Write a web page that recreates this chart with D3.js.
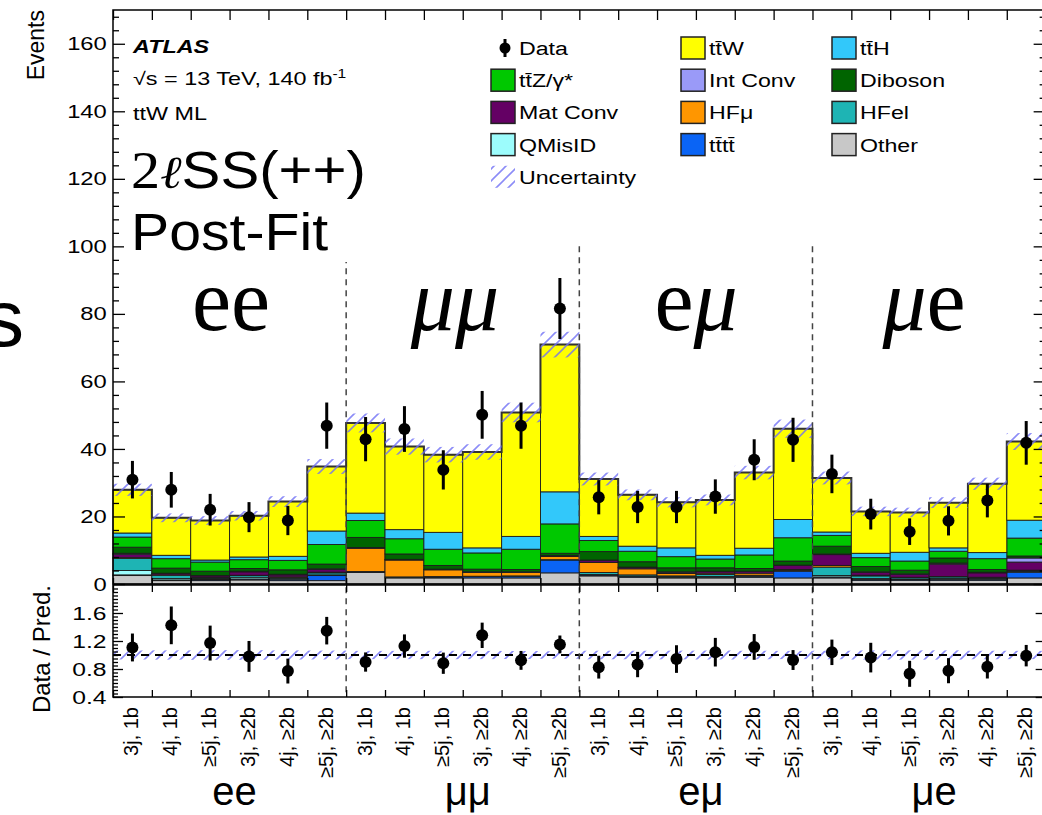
<!DOCTYPE html>
<html>
<head>
<meta charset="utf-8">
<script src="https://cdn.jsdelivr.net/npm/d3@7"></script>
<style>
body { margin: 0; background: #fff; }
svg { display: block; font-family: "Liberation Sans", Arial, sans-serif; }
</style>
</head>
<body>
<svg id="chart" width="1042" height="815"></svg>
<script>
let channels = ["ee", "μμ", "eμ", "μe"]
let binLabels = ["3j, 1b", "4j, 1b", "≥5j, 1b", "3j, ≥2b", "4j, ≥2b", "≥5j, ≥2b"]

let dataEvents = [30.9, 27.9, 22.0, 19.8, 18.8, 46.9, 42.9, 45.9, 33.8, 50.1, 46.9, 81.6,
                  25.7, 22.8, 22.8, 25.9, 36.8, 42.7, 32.6, 20.7, 15.5, 18.7, 24.7, 41.8]

let other   = [2.5, 1.0, 1.0, 1.2, 1.0, 1.0, 3.4, 1.8, 1.8, 1.8, 1.8, 3.3, 2.4, 2.0, 1.8, 1.8, 2.0, 1.8, 1.8, 1.1, 1.1, 1.1, 1.1, 1.8]
let tttt    = [0.2, 0.2, 0.3, 0.3, 0.4, 1.5, 0.2, 0.2, 0.3, 0.4, 0.5, 3.8, 0.3, 0.2, 0.2, 0.2, 0.3, 2.0, 0.3, 0.2, 0.2, 0.3, 0.3, 1.7]
let qmisid  = [1.3, 0.4, 0.2, 0.5, 0.3, 0.2, 0.0, 0.0, 0.0, 0.0, 0.0, 0.0, 0.1, 0.1, 0.1, 0.2, 0.1, 0.1, 0.4, 0.3, 0.2, 0.2, 0.2, 0.1]
let hfEl    = [3.6, 1.0, 0.3, 0.5, 0.3, 0.6, 0.1, 0.1, 0.1, 0.1, 0.1, 0.1, 0.6, 0.4, 0.3, 0.6, 0.2, 0.2, 2.5, 0.8, 0.4, 0.5, 0.3, 0.3]
let hfMu    = [0.2, 0.1, 0.1, 0.1, 0.1, 0.2, 6.9, 5.0, 2.0, 1.1, 1.0, 1.0, 3.0, 1.8, 0.7, 0.4, 0.6, 0.2, 0.5, 0.2, 0.1, 0.1, 0.1, 0.2]
let matConv = [1.0, 0.4, 0.5, 1.0, 0.6, 0.8, 0.1, 0.1, 0.1, 0.1, 0.1, 0.1, 0.6, 0.4, 0.4, 0.5, 0.5, 1.2, 3.2, 0.8, 0.8, 3.7, 1.3, 2.4]
let intConv = [0.3, 0.1, 0.1, 0.2, 0.2, 0.2, 0.1, 0.1, 0.1, 0.1, 0.1, 0.1, 0.1, 0.1, 0.1, 0.1, 0.1, 0.1, 0.2, 0.2, 0.2, 0.3, 0.2, 1.2]
let diboson = [1.8, 1.5, 1.3, 0.8, 1.3, 1.4, 3.0, 1.6, 1.1, 0.8, 0.7, 0.7, 2.5, 1.6, 1.2, 1.0, 0.8, 1.2, 2.3, 1.6, 1.1, 1.5, 0.8, 0.6]
let ttZ     = [3.0, 2.8, 2.7, 2.6, 2.8, 5.8, 5.0, 4.5, 4.8, 4.8, 6.0, 8.7, 3.3, 3.1, 3.3, 2.6, 4.0, 6.9, 3.2, 2.6, 2.7, 2.0, 3.2, 5.3]
let ttH     = [1.2, 1.0, 0.6, 0.8, 1.2, 4.0, 2.2, 2.7, 5.0, 1.5, 3.8, 9.5, 1.2, 1.5, 2.6, 1.1, 2.0, 5.4, 1.0, 1.3, 2.6, 1.0, 1.8, 5.3]
let ttW     = [12.8, 11.1, 11.7, 12.2, 16.2, 19.1, 26.7, 24.6, 23.0, 28.4, 36.7, 43.6,
               17.0, 15.2, 13.5, 16.4, 22.4, 26.9, 16.0, 12.4, 11.8, 13.4, 20.4, 23.3]

let uncertainty = [1.8, 1.3, 1.3, 1.4, 1.6, 2.2, 2.8, 2.4, 2.3, 2.3, 2.9, 3.8,
                   1.9, 1.6, 1.5, 1.6, 2.0, 2.7, 1.9, 1.4, 1.4, 1.6, 1.8, 2.5]

// stacked bottom to top
let samples = [
    {name: "Other", label: "Other", values: other, color: "#c8c8c8"},
    {name: "tttt", label: "tt\u0304tt\u0304", values: tttt, color: "#0a64f5"},
    {name: "QMisID", label: "QMisID", values: qmisid, color: "#9cfcfc"},
    {name: "HFel", label: "HFel", values: hfEl, color: "#1eb4b4"},
    {name: "HFmu", label: "HFμ", values: hfMu, color: "#ff9600"},
    {name: "MatConv", label: "Mat Conv", values: matConv, color: "#640064"},
    {name: "IntConv", label: "Int Conv", values: intConv, color: "#9a9af8"},
    {name: "Diboson", label: "Diboson", values: diboson, color: "#006400"},
    {name: "ttZ", label: "tt\u0304Z/γ*", values: ttZ, color: "#00c800"},
    {name: "ttH", label: "tt\u0304H", values: ttH, color: "#32c8fa"},
    {name: "ttW", label: "tt\u0304W", values: ttW, color: "#ffff00"}
]

let legendRows = [
    ["Data", "ttW", "ttH"],
    ["ttZ", "IntConv", "Diboson"],
    ["MatConv", "HFmu", "HFel"],
    ["QMisID", "tttt", "Other"],
    ["Uncertainty"]
]

let nBins = dataEvents.length
let svg = d3.select("#chart")

let plotLeft = 113
let plotRight = 113 + nBins * 38.86
let plotTop = 10
let mainBottom = 584
let ratioTop = 585
let ratioBottom = 697

let x = d3.scaleLinear().domain([0, nBins]).range([plotLeft, plotRight])
let xBand = d3.scaleBand().domain(d3.range(nBins)).range([plotLeft, plotRight])
let y = d3.scaleLinear().domain([0, 170]).range([mainBottom, plotTop])
let yRatio = d3.scaleLinear().domain([0.4, 2.0]).range([ratioBottom, ratioTop])

let rows = d3.range(nBins).map((i) => {
    let row = {bin: i}
    samples.forEach((s) => { row[s.name] = s.values[i] })
    return row
})
let series = d3.stack().keys(samples.map((s) => s.name))(rows)
let totals = rows.map((row, i) => d3.sum(samples, (s) => s.values[i]))

let stretchText = (parent, px, py, str, size, sx, anchor) => {
    return parent.append("text")
        .attr("transform", "translate(" + px + "," + py + ") scale(" + sx + ",1)")
        .attr("text-anchor", anchor || "start")
        .style("font-size", size + "px")
        .text(str)
}

let defs = svg.append("defs")
let hatch = defs.append("pattern")
    .attr("id", "hatch")
    .attr("patternUnits", "userSpaceOnUse")
    .attr("width", 12)
    .attr("height", 12)
hatch.append("path")
    .attr("d", "M-3,3 L3,-3 M0,12 L12,0 M9,15 L15,9")
    .attr("stroke", "#6f6ff5")
    .attr("stroke-opacity", 0.8)
    .attr("stroke-width", 1.6)

// stacked histograms
svg.append("g")
    .selectAll("g")
    .data(series)
    .enter()
    .append("g")
    .attr("fill", (d, i) => samples[i].color)
    .selectAll("rect")
    .data((d) => d)
    .enter()
    .append("rect")
    .attr("x", (d) => x(d.data.bin))
    .attr("width", x(1) - x(0))
    .attr("y", (d) => y(d[1]))
    .attr("height", (d) => y(d[0]) - y(d[1]))
    .attr("stroke", "#1c1c1c")
    .attr("stroke-width", 0.9)

let totalLine = d3.line().curve(d3.curveStepAfter)
svg.append("path")
    .attr("d", totalLine(totals.map((t, i) => [x(i), y(t)]).concat([[x(nBins), y(totals[nBins - 1])]])))
    .attr("fill", "none")
    .attr("stroke", "#333")
    .attr("stroke-width", 2)

svg.append("g")
    .selectAll("rect")
    .data(totals)
    .enter()
    .append("rect")
    .attr("x", (d, i) => x(i))
    .attr("width", x(1) - x(0))
    .attr("y", (d, i) => y(d + uncertainty[i]))
    .attr("height", (d, i) => y(d - uncertainty[i]) - y(d + uncertainty[i]))
    .attr("fill", "url(#hatch)")

// ratio band and reference line
svg.append("g")
    .selectAll("rect")
    .data(totals)
    .enter()
    .append("rect")
    .attr("x", (d, i) => x(i))
    .attr("width", x(1) - x(0))
    .attr("y", (d, i) => yRatio(1 + uncertainty[i] / d))
    .attr("height", (d, i) => yRatio(1 - uncertainty[i] / d) - yRatio(1 + uncertainty[i] / d))
    .attr("fill", "url(#hatch)")

svg.append("line")
    .attr("x1", plotLeft).attr("x2", plotRight)
    .attr("y1", yRatio(1)).attr("y2", yRatio(1))
    .attr("stroke", "#000")
    .attr("stroke-width", 2)
    .attr("stroke-dasharray", "8,6")

// channel separators
svg.append("g")
    .selectAll("line")
    .data([6, 12, 18])
    .enter()
    .append("line")
    .attr("x1", (d) => x(d)).attr("x2", (d) => x(d))
    .attr("y1", y(100)).attr("y2", ratioBottom)
    .attr("stroke", "#444")
    .attr("stroke-width", 1.5)
    .attr("stroke-dasharray", "6,5")

// data points
let points = svg.append("g")
points.selectAll("line")
    .data(dataEvents)
    .enter()
    .append("line")
    .attr("x1", (d, i) => xBand(i) + xBand.bandwidth() / 2)
    .attr("x2", (d, i) => xBand(i) + xBand.bandwidth() / 2)
    .attr("y1", (d) => y(d - Math.sqrt(d)))
    .attr("y2", (d) => y(d + Math.sqrt(d)))
    .attr("stroke", "#000")
    .attr("stroke-width", 3)
points.selectAll("circle")
    .data(dataEvents)
    .enter()
    .append("circle")
    .attr("cx", (d, i) => xBand(i) + xBand.bandwidth() / 2)
    .attr("cy", (d) => y(d))
    .attr("r", 6)
    .attr("fill", "#000")

let ratioPoints = svg.append("g")
ratioPoints.selectAll("line")
    .data(dataEvents)
    .enter()
    .append("line")
    .attr("x1", (d, i) => xBand(i) + xBand.bandwidth() / 2)
    .attr("x2", (d, i) => xBand(i) + xBand.bandwidth() / 2)
    .attr("y1", (d, i) => yRatio((d - Math.sqrt(d)) / totals[i]))
    .attr("y2", (d, i) => yRatio((d + Math.sqrt(d)) / totals[i]))
    .attr("stroke", "#000")
    .attr("stroke-width", 3)
ratioPoints.selectAll("circle")
    .data(dataEvents)
    .enter()
    .append("circle")
    .attr("cx", (d, i) => xBand(i) + xBand.bandwidth() / 2)
    .attr("cy", (d, i) => yRatio(d / totals[i]))
    .attr("r", 6)
    .attr("fill", "#000")

// frames
svg.append("rect")
    .attr("x", plotLeft).attr("y", plotTop)
    .attr("width", plotRight - plotLeft).attr("height", mainBottom - plotTop)
    .attr("fill", "none").attr("stroke", "#000").attr("stroke-width", 1.5)
svg.append("rect")
    .attr("x", plotLeft).attr("y", ratioTop)
    .attr("width", plotRight - plotLeft).attr("height", ratioBottom - ratioTop)
    .attr("fill", "none").attr("stroke", "#000").attr("stroke-width", 1.5)

// axes
let cleanAxis = (g) => {
    g.select(".domain").remove()
    g.selectAll(".tick line").attr("stroke", "#000").attr("stroke-width", 1.3)
}

let mainMajor = d3.range(0, 161, 20)
let mainMinor = d3.range(0, 171, 4).filter((v) => v % 20 !== 0)

let yAxisG = svg.append("g")
    .attr("transform", "translate(" + plotLeft + ",0)")
    .call(d3.axisLeft(y).tickValues(mainMajor).tickSizeInner(-12).tickSizeOuter(0).tickPadding(5))
    .call(cleanAxis)
yAxisG.selectAll(".tick text")
    .attr("transform", "scale(1.25,1)")
    .style("font-size", "19px")
    .attr("fill", "#000")

svg.append("g")
    .attr("transform", "translate(" + plotLeft + ",0)")
    .call(d3.axisLeft(y).tickValues(mainMinor).tickSizeInner(-6).tickSizeOuter(0).tickFormat(""))
    .call(cleanAxis)
svg.append("g")
    .attr("transform", "translate(" + plotRight + ",0)")
    .call(d3.axisRight(y).tickValues(mainMajor).tickSizeInner(-12).tickSizeOuter(0).tickFormat(""))
    .call(cleanAxis)
svg.append("g")
    .attr("transform", "translate(" + plotRight + ",0)")
    .call(d3.axisRight(y).tickValues(mainMinor).tickSizeInner(-6).tickSizeOuter(0).tickFormat(""))
    .call(cleanAxis)

let ratioMajor = [0.4, 0.8, 1.2, 1.6]
let ratioMinor = d3.range(0.45, 2.0, 0.05).filter((v) => Math.abs(v / 0.4 - Math.round(v / 0.4)) > 0.01)

let ratioAxisG = svg.append("g")
    .attr("transform", "translate(" + plotLeft + ",0)")
    .call(d3.axisLeft(yRatio).tickValues(ratioMajor).tickSizeInner(-10).tickSizeOuter(0).tickPadding(5).tickFormat(d3.format(".1f")))
    .call(cleanAxis)
ratioAxisG.selectAll(".tick text")
    .attr("transform", "scale(1.3,1)")
    .style("font-size", "19px")
    .attr("fill", "#000")
svg.append("g")
    .attr("transform", "translate(" + plotLeft + ",0)")
    .call(d3.axisLeft(yRatio).tickValues(ratioMinor).tickSizeInner(-5).tickSizeOuter(0).tickFormat(""))
    .call(cleanAxis)
svg.append("g")
    .attr("transform", "translate(" + plotRight + ",0)")
    .call(d3.axisRight(yRatio).tickValues(ratioMajor).tickSizeInner(-10).tickSizeOuter(0).tickFormat(""))
    .call(cleanAxis)

let binEdges = d3.range(0, nBins + 1)
let edgeTicks = [[plotTop, 10, "top"], [mainBottom, 6, "bottom"], [ratioTop, 7, "top"], [ratioBottom, 7, "bottom"]]
edgeTicks.forEach((e) => {
    let axis = e[2] === "top" ? d3.axisTop(x) : d3.axisBottom(x)
    svg.append("g")
        .attr("transform", "translate(0," + e[0] + ")")
        .call(axis.tickValues(binEdges).tickSizeInner(-e[1]).tickSizeOuter(0).tickFormat(""))
        .call(cleanAxis)
})

let xLabelG = svg.append("g")
    .attr("transform", "translate(0," + ratioBottom + ")")
    .call(d3.axisBottom(xBand).tickSize(0).tickFormat((i) => binLabels[i % binLabels.length]))
    .call((g) => g.select(".domain").remove())
xLabelG.selectAll(".tick text")
    .attr("transform", "rotate(-90)")
    .attr("text-anchor", "end")
    .attr("x", -10)
    .attr("y", 6)
    .attr("dy", 0)
    .style("font-size", "20px")
    .attr("fill", "#000")

svg.append("g")
    .selectAll("text")
    .data(channels)
    .enter()
    .append("text")
    .attr("x", (d, i) => x(i * 6 + 3) + 5)
    .attr("y", 805)
    .attr("text-anchor", "middle")
    .style("font-size", "40px")
    .text((d) => d)

svg.append("text")
    .attr("transform", "translate(44," + plotTop + ") rotate(-90)")
    .attr("text-anchor", "end")
    .style("font-size", "23px")
    .text("Events")
svg.append("text")
    .attr("transform", "translate(50," + ratioTop + ") rotate(-90)")
    .attr("text-anchor", "end")
    .style("font-size", "24px")
    .text("Data / Pred.")

// ATLAS label
stretchText(svg, 133, 53, "ATLAS", 18, 1.3)
    .style("font-weight", "bold")
    .style("font-style", "italic")
let energy = stretchText(svg, 133, 85, "√s = 13 TeV, 140 fb", 18, 1.3)
energy.append("tspan")
    .attr("dy", -7)
    .style("font-size", "12px")
    .text("-1")
stretchText(svg, 133, 120, "ttW ML", 18, 1.3)

// legend
let legendColX = [491, 681, 832]
let legendRowY = (r) => 48 + r * 32.2
let legendG = svg.append("g")
legendRows.forEach((row, r) => {
    row.forEach((key, c) => {
        let cy = legendRowY(r)
        let bx = legendColX[c]
        let label
        if (key === "Data") {
            legendG.append("line")
                .attr("x1", bx + 14).attr("x2", bx + 14)
                .attr("y1", cy - 9).attr("y2", cy + 9)
                .attr("stroke", "#000").attr("stroke-width", 3)
            legendG.append("circle")
                .attr("cx", bx + 14).attr("cy", cy).attr("r", 5.5).attr("fill", "#000")
            label = "Data"
        } else if (key === "Uncertainty") {
            legendG.append("rect")
                .attr("x", bx).attr("y", cy - 11).attr("width", 24).attr("height", 22)
                .attr("fill", "url(#hatch)")
            label = "Uncertainty"
        } else {
            let s = samples.find((item) => item.name === key)
            legendG.append("rect")
                .attr("x", bx).attr("y", cy - 11).attr("width", 24).attr("height", 22)
                .attr("fill", s.color).attr("stroke", "#222").attr("stroke-width", 1.5)
            label = s.label
        }
        stretchText(legendG, bx + 28, cy + 7, label, 19, 1.22)
    })
})

// slide annotations
svg.append("rect")
    .attr("x", 124).attr("y", 196)
    .attr("width", 228).attr("height", 66)
    .attr("fill", "#fff")

let sign = svg.append("text")
    .attr("transform", "translate(131,188) scale(1.12,1)")
    .style("font-size", "52px")
sign.append("tspan")
    .style("font-family", "'Liberation Serif', 'DejaVu Serif', serif")
    .text("2")
sign.append("tspan")
    .style("font-family", "'DejaVu Serif', serif")
    .style("font-style", "italic")
    .style("font-size", "46px")
    .text("ℓ")
sign.append("tspan")
    .text("SS(++)")
stretchText(svg, 131, 250, "Post-Fit", 52, 1.1)

let bigLabels = [
    [{t: "ee", it: false}],
    [{t: "μμ", it: true}],
    [{t: "e", it: false}, {t: "μ", it: true}],
    [{t: "μ", it: true}, {t: "e", it: false}]
]
let bigX = [231, 455, 696, 924]
bigLabels.forEach((parts, i) => {
    let t = svg.append("text")
        .attr("x", bigX[i])
        .attr("y", 330)
        .attr("text-anchor", "middle")
        .style("font-family", "'Liberation Serif', 'Times New Roman', serif")
        .style("font-size", "88px")
    parts.forEach((p) => {
        t.append("tspan")
            .style("font-style", p.it ? "italic" : "normal")
            .text(p.t)
    })
})

svg.append("text")
    .attr("x", 24)
    .attr("y", 346)
    .attr("text-anchor", "end")
    .style("font-size", "80px")
    .text("s")
</script>
</body>
</html>
